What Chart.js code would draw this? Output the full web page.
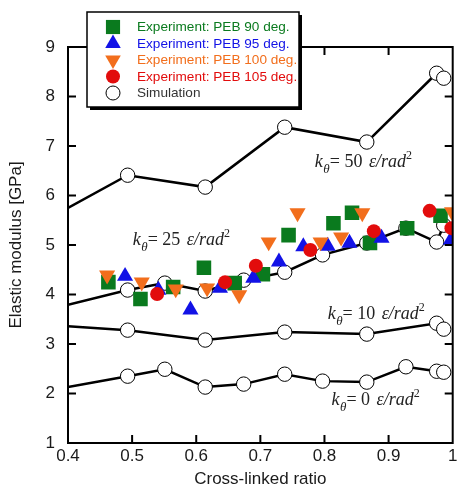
<!DOCTYPE html>
<html>
<head>
<meta charset="utf-8">
<script src="https://cdn.jsdelivr.net/npm/chart.js@4.4.1/dist/chart.umd.min.js"></script>
<style>
html,body{margin:0;padding:0;background:#fff;}
canvas{display:block;}
</style>
</head>
<body>
<canvas id="c" width="463" height="488"></canvas>
<script>
// ---- data ----
const xTickLabels = ['0.4','0.5','0.6','0.7','0.8','0.9','1'];
const yTickLabels = ['1','2','3','4','5','6','7','8','9'];

// Simulation (k_theta series); first value is where the line enters the axis
const k0X  = [0.40, 0.493, 0.551, 0.614, 0.674, 0.738, 0.797, 0.866, 0.927, 0.975, 0.986];
const k0Y  = [2.13, 2.35, 2.49, 2.13, 2.19, 2.39, 2.25, 2.23, 2.54, 2.45, 2.43];
const k10X = [0.40, 0.493, 0.614, 0.738, 0.866, 0.975, 0.986];
const k10Y = [3.36, 3.28, 3.08, 3.24, 3.20, 3.42, 3.30];
const k25X = [0.40, 0.493, 0.551, 0.614, 0.674, 0.738, 0.797, 0.866, 0.927, 0.975, 0.986];
const k25Y = [3.79, 4.09, 4.23, 4.07, 4.29, 4.45, 4.80, 5.04, 5.34, 5.06, 5.40];
const k50X = [0.40, 0.493, 0.614, 0.738, 0.866, 0.975, 0.986];
const k50Y = [5.75, 6.41, 6.17, 7.38, 7.08, 8.47, 8.37];

// Experiments
const peb90X  = [0.463, 0.513, 0.564, 0.612, 0.660, 0.704, 0.744, 0.814, 0.843, 0.871, 0.929, 0.981];
const peb90Y  = [4.25, 3.91, 4.15, 4.54, 4.23, 4.41, 5.20, 5.44, 5.65, 5.04, 5.34, 5.59];
const peb95X  = [0.489, 0.541, 0.591, 0.637, 0.689, 0.729, 0.767, 0.805, 0.839, 0.889, 0.997];
const peb95Y  = [4.37, 4.09, 3.69, 4.13, 4.33, 4.66, 4.97, 4.98, 5.04, 5.14, 5.10];
const peb100X = [0.461, 0.515, 0.568, 0.617, 0.667, 0.713, 0.758, 0.794, 0.826, 0.859, 0.999];
const peb100Y = [4.39, 4.25, 4.11, 4.13, 3.99, 5.06, 5.65, 5.06, 5.16, 5.65, 5.67];
const peb105X = [0.539, 0.645, 0.693, 0.778, 0.877, 0.964, 0.998];
const peb105Y = [4.01, 4.25, 4.58, 4.90, 5.28, 5.69, 5.34];

const legendLabels = ['Experiment: PEB 90 deg.','Experiment: PEB 95 deg.','Experiment: PEB 100 deg.','Experiment: PEB 105 deg.','Simulation'];
const kLabels = ['50','25','10','0'];
const kLabelPos = [[0.785,6.58],[0.501,5.00],[0.805,3.50],[0.811,1.77]];

// ---- styles ----
const GREEN='#0a7a1e', BLUE='#1212e6', ORANGE='#f26e1c', RED='#e20c0c', SIMTXT='#333333';
const pts=(xs,ys)=>xs.map((x,i)=>({x:x,y:ys[i]}));

function simDS(xs,ys){
  return {label:'Simulation', data:pts(xs,ys), showLine:true, borderColor:'#000', borderWidth:2.5,
    pointBackgroundColor:'#fff', pointBorderColor:'#000', pointBorderWidth:1,
    pointRadius:(c)=>c.dataIndex===0?0:7.2, pointHoverRadius:(c)=>c.dataIndex===0?0:7.2,
    order:10, clip:0};
}
function expDS(label,xs,ys,color,style,r,rot){
  return {label:label, data:pts(xs,ys), showLine:false, backgroundColor:color, borderColor:color,
    pointBackgroundColor:color, pointBorderColor:color, pointBorderWidth:0,
    pointStyle:style, pointRadius:r, pointHoverRadius:r, pointRotation:rot||0, order:1, clip:0};
}

const SANS='"Liberation Sans", Arial, sans-serif';
const SERIF='"Liberation Serif", "Times New Roman", serif';

const deco = {
  id:'deco',
  afterDraw(chart){
    const ctx=chart.ctx, a=chart.chartArea, xs=chart.scales.x, ys=chart.scales.y;
    ctx.save();
    // frame
    ctx.strokeStyle='#000'; ctx.lineWidth=2;
    ctx.strokeRect(a.left,a.top,a.right-a.left,a.bottom-a.top);
    // inward ticks
    ctx.lineWidth=2;
    const TL=8;
    xs.ticks.forEach(t=>{
      const p=xs.getPixelForValue(t.value);
      if(p<=a.left+1||p>=a.right-1) return;
      ctx.beginPath(); ctx.moveTo(p,a.bottom); ctx.lineTo(p,a.bottom-TL);
      ctx.moveTo(p,a.top); ctx.lineTo(p,a.top+TL); ctx.stroke();
    });
    ys.ticks.forEach(t=>{
      const p=ys.getPixelForValue(t.value);
      if(p<=a.top+1||p>=a.bottom-1) return;
      ctx.beginPath(); ctx.moveTo(a.left,p); ctx.lineTo(a.left+TL,p);
      ctx.moveTo(a.right,p); ctx.lineTo(a.right-TL,p); ctx.stroke();
    });
    // axis titles
    ctx.fillStyle='#1a1a1a';
    ctx.font='17px '+SANS; ctx.textAlign='center'; ctx.textBaseline='middle';
    ctx.fillText('Cross-linked ratio',(a.left+a.right)/2,479);
    ctx.save(); ctx.translate(16,(a.top+a.bottom)/2); ctx.rotate(-Math.PI/2);
    ctx.fillText('Elastic modulus [GPa]',0,0); ctx.restore();

    // k labels
    kLabels.forEach((k,i)=>{
      let x=xs.getPixelForValue(kLabelPos[i][0]); const y=ys.getPixelForValue(kLabelPos[i][1]);
      ctx.fillStyle='#222'; ctx.textAlign='left'; ctx.textBaseline='alphabetic';
      ctx.font='italic 18px '+SERIF; ctx.fillText('k',x,y); x+=ctx.measureText('k').width+0.5;
      ctx.font='italic 13px '+SERIF; ctx.fillText('θ',x,y+6); x+=ctx.measureText('θ').width;
      ctx.font='18px '+SERIF; const s='= '+k+' '; ctx.fillText(s,x,y); x+=ctx.measureText(s).width+2;
      ctx.font='italic 18px '+SERIF; ctx.fillText('ε/rad',x,y); x+=ctx.measureText('ε/rad').width;
      ctx.font='12px '+SERIF; ctx.fillText('2',x,y-8);
    });

    // legend
    const bx=87,by=12,bw=212,bh=95;
    ctx.fillStyle='#000'; ctx.fillRect(bx+3,by+3,bw,bh);
    ctx.fillStyle='#fff'; ctx.fillRect(bx,by,bw,bh);
    ctx.lineWidth=1.5; ctx.strokeStyle='#000'; ctx.strokeRect(bx,by,bw,bh);
    const rows=[27,43.5,60,76.5,93];
    const cols=[GREEN,BLUE,ORANGE,RED,SIMTXT];
    const styles=[['rect',10,0],['triangle',9,0],['triangle',9,180],['circle',7,0],['circle',7,0]];
    legendLabels.forEach((lab,i)=>{
      const cx=113, cy=rows[i];
      if(i<4){
        ctx.fillStyle=cols[i]; ctx.strokeStyle=cols[i]; ctx.lineWidth=0.01;
        Chart.helpers.drawPoint(ctx,{pointStyle:styles[i][0],radius:styles[i][1],rotation:styles[i][2],borderWidth:0},cx,cy);
      } else {
        ctx.fillStyle='#fff'; ctx.strokeStyle='#000'; ctx.lineWidth=1;
        Chart.helpers.drawPoint(ctx,{pointStyle:'circle',radius:7,rotation:0,borderWidth:1},cx,cy);
      }
      ctx.fillStyle=cols[i]; ctx.font='13.6px '+SANS; ctx.textAlign='left'; ctx.textBaseline='middle';
      ctx.fillText(lab,137,cy+0.5);
    });
    ctx.restore();
  }
};

new Chart(document.getElementById('c'),{
  type:'scatter',
  data:{datasets:[
    expDS(legendLabels[3],peb105X,peb105Y,RED,'circle',7,0),
    expDS(legendLabels[2],peb100X,peb100Y,ORANGE,'triangle',9.3,180),
    expDS(legendLabels[1],peb95X,peb95Y,BLUE,'triangle',9.3,0),
    expDS(legendLabels[0],peb90X,peb90Y,GREEN,'rect',10.3,0),
    simDS(k0X,k0Y), simDS(k10X,k10Y), simDS(k25X,k25Y), simDS(k50X,k50Y)
  ]},
  options:{
    responsive:false, animation:false, devicePixelRatio:1,
    layout:{padding:{top:47,right:3,left:0,bottom:0}},
    plugins:{legend:{display:false},tooltip:{enabled:false}},
    events:[],
    scales:{
      x:{type:'linear',min:0.4,max:1.0,
        grid:{display:false,drawTicks:false},border:{display:false},
        ticks:{stepSize:0.1,padding:3,color:'#1a1a1a',font:{family:SANS,size:17},
          callback:(v,i)=>xTickLabels[i]},
        afterFit:(s)=>{s.height=45; s.paddingLeft=0; s.paddingRight=0;}
      },
      y:{type:'linear',min:1,max:9,
        grid:{display:false,drawTicks:false},border:{display:false},
        ticks:{stepSize:1,padding:13,color:'#1a1a1a',font:{family:SANS,size:17},
          callback:(v,i)=>yTickLabels[i]},
        afterFit:(s)=>{s.width=68; s.paddingTop=0; s.paddingBottom=0;}
      }
    }
  },
  plugins:[deco]
});
</script>
</body>
</html>
